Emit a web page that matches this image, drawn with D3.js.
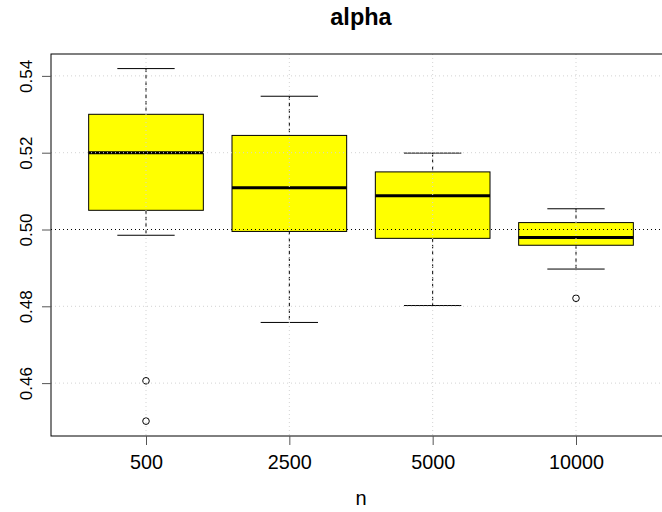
<!DOCTYPE html>
<html><head><meta charset="utf-8">
<script src="https://cdn.jsdelivr.net/npm/d3@7"></script>
<style>body{margin:0;background:#fff}svg{display:block;font-family:"Liberation Sans",Arial,sans-serif}</style>
</head><body>
<svg id="c" width="662" height="512"></svg>
<script>
const categories = ["500","2500","5000","10000"];
const whiskerLow  = [0.4985,0.4758,0.4802,0.4897];
const q1          = [0.5050,0.4995,0.4977,0.4959];
const median      = [0.5200,0.5109,0.5088,0.4979];
const q3          = [0.5300,0.5245,0.5150,0.5018];
const whiskerHigh = [0.5419,0.5347,0.5199,0.5054];
const outliers    = [[0.4606,0.4501],[],[],[0.4821]];
const yTicks = [0.46,0.48,0.50,0.52,0.54];
const refLine = 0.5;

const svg = d3.select("#c");
const x = d3.scaleLinear().domain([0.34,4.66]).range([51.4,670.6]);
const y = d3.scaleLinear().domain([0.4461,0.5457]).range([436.5,54]);
const L=51, R=670.6, T=54, B=436;

const g = svg.append("g");
categories.forEach((c,i)=>{
  const cx = x(i+1), hw = x(i+1.4)-x(i+1), cw = x(i+1.2)-x(i+1);
  g.append("line").attr("x1",cx).attr("x2",cx).attr("y1",y(whiskerHigh[i])).attr("y2",y(q3[i]))
    .attr("stroke","#000").attr("stroke-dasharray","3.5,3");
  g.append("line").attr("x1",cx).attr("x2",cx).attr("y1",y(q1[i])).attr("y2",y(whiskerLow[i]))
    .attr("stroke","#000").attr("stroke-dasharray","3.5,3");
  [whiskerHigh[i],whiskerLow[i]].forEach(v=>{
    g.append("line").attr("x1",cx-cw).attr("x2",cx+cw).attr("y1",y(v)).attr("y2",y(v)).attr("stroke","#000");
  });
  g.append("rect").attr("x",cx-hw).attr("width",2*hw).attr("y",y(q3[i])).attr("height",y(q1[i])-y(q3[i]))
    .attr("fill","#ffff00").attr("stroke","#000").attr("stroke-width",1);
  g.append("line").attr("x1",cx-hw).attr("x2",cx+hw).attr("y1",y(median[i])).attr("y2",y(median[i]))
    .attr("stroke","#000").attr("stroke-width",3);
  outliers[i].forEach(v=>{
    g.append("circle").attr("cx",cx).attr("cy",y(v)).attr("r",3.3).attr("fill","none").attr("stroke","#000");
  });
});

// grid (drawn over boxes)
yTicks.filter(t=>t!==refLine).forEach(t=>{
  svg.append("line").attr("x1",L).attr("x2",R).attr("y1",y(t)).attr("y2",y(t))
    .attr("stroke","#d3d3d3").attr("stroke-dasharray","1,3");
});
categories.forEach((c,i)=>{
  svg.append("line").attr("x1",x(i+1)).attr("x2",x(i+1)).attr("y1",T).attr("y2",B)
    .attr("stroke","#d3d3d3").attr("stroke-dasharray","1,3");
});
svg.append("line").attr("x1",L).attr("x2",R).attr("y1",y(refLine)).attr("y2",y(refLine))
  .attr("stroke","#000").attr("stroke-dasharray","1,3");

// frame
svg.append("rect").attr("x",L).attr("y",T).attr("width",R-L).attr("height",B-T)
  .attr("fill","none").attr("stroke","#000");

// axes
const yAxis = svg.append("g").attr("transform",`translate(${L},0)`)
  .call(d3.axisLeft(y).tickValues(yTicks).tickSize(9).tickFormat(d3.format(".2f")));
yAxis.select(".domain").remove();
yAxis.selectAll("line").attr("stroke","#555");
yAxis.selectAll("text").attr("x",null).attr("y",null).attr("dy",null)
  .attr("text-anchor","middle").attr("font-size","17px").attr("fill","#000")
  .attr("transform",`translate(${31.5-L},0) rotate(-90)`);

const xAxis = svg.append("g").attr("transform",`translate(0,${B})`)
  .call(d3.axisBottom(x).tickValues(categories.map((c,i)=>i+1)).tickSize(9).tickFormat((d)=>categories[d-1]));
xAxis.select(".domain").remove();
xAxis.selectAll("line").attr("stroke","#555");
xAxis.selectAll("text").attr("y",33).attr("dy",null).attr("font-size","19.8px").attr("fill","#000");

svg.append("text").attr("x",361).attr("y",505).attr("text-anchor","middle").attr("font-size","20px").text("n");
svg.append("text").attr("x",361).attr("y",25).attr("text-anchor","middle").attr("font-size","23.5px")
  .attr("font-weight","bold").text("alpha");
</script>
</body></html>
